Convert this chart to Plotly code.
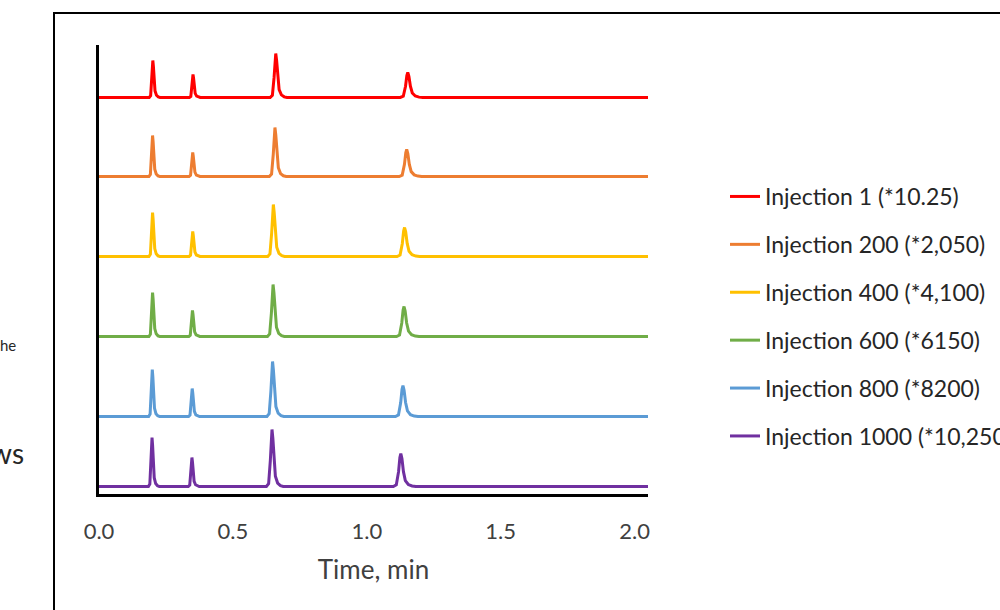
import plotly.graph_objects as go

# ---------------- data ----------------
series_names = [
    "Injection 1 (*10.25)",
    "Injection 200 (*2,050)",
    "Injection 400 (*4,100)",
    "Injection 600 (*6150)",
    "Injection 800 (*8200)",
    "Injection 1000 (*10,250)",
]
series_colors = ["#FF0000", "#ED7D31", "#FFC000", "#70AD47", "#5B9BD5", "#7030A0"]

# stacked baseline (signal offset, arbitrary units) of each trace
baselines = [396.5, 317.5, 237.5, 157.5, 77.5, 7.5]

# retention times (min) of the four peaks in each trace
rt_red = [0.201, 0.351, 0.660, 1.153]
rt_orange = [0.200, 0.350, 0.657, 1.149]
rt_yellow = [0.200, 0.350, 0.651, 1.141]
rt_green = [0.200, 0.349, 0.650, 1.139]
rt_blue = [0.199, 0.348, 0.648, 1.135]
rt_purple = [0.198, 0.347, 0.646, 1.127]

# peak heights above baseline (arbitrary units)
h_red = [37, 23, 44, 25]
h_orange = [41, 24, 49, 27]
h_yellow = [44, 25, 52, 29]
h_green = [44, 26, 52, 30]
h_blue = [47, 28, 55, 31]
h_purple = [49, 29, 57, 33]

# half-width (min) of each of the four peaks
peak_halfwidth = [0.0068, 0.0068, 0.0105, 0.014]

# sampled peak profile: offset (in half-widths) and relative intensity
profile_dt = [-2.0, -1.2, -0.6, -0.25, 0.0, 0.3, 0.7, 1.2, 2.0, 3.0, 4.0]
profile_val = [0.0, 0.05, 0.45, 0.88, 1.0, 0.85, 0.45, 0.18, 0.06, 0.015, 0.0]

time_start, time_end = 0.0, 2.05
x_ticks = [0.0, 0.5, 1.0, 1.5, 2.0]
x_tick_text = ["0.0", "0.5", "1.0", "1.5", "2.0"]

all_rt = [rt_red, rt_orange, rt_yellow, rt_green, rt_blue, rt_purple]
all_h = [h_red, h_orange, h_yellow, h_green, h_blue, h_purple]

# ---------------- figure ----------------
W, H = 1000, 610
PLOT_L, PLOT_R, PLOT_T, PLOT_B = 99, 648, 45, 494   # page pixels
L, T, R, B = PLOT_L, PLOT_T, W - PLOT_R, H - PLOT_B
PW, PH = PLOT_R - PLOT_L, PLOT_B - PLOT_T


def px_x(px):
    return (px - PLOT_L) / PW


def px_y(py):
    return (PLOT_B - py) / PH


FONT = "Lato, Calibri, sans-serif"

fig = go.Figure()
for i, name in enumerate(series_names):
    base = baselines[i]
    xs = [time_start]
    ys = [base]
    for k, (rt, h) in enumerate(zip(all_rt[i], all_h[i])):
        w = peak_halfwidth[k]
        for dt, v in zip(profile_dt, profile_val):
            xs.append(rt + dt * w)
            ys.append(base + h * v)
    xs.append(time_end)
    ys.append(base)
    fig.add_trace(go.Scatter(
        x=xs, y=ys, mode="lines", name=name,
        line=dict(color=series_colors[i], width=3),
        legendgroup=f"g{i}",
        hoverinfo="skip",
    ))

fig.update_layout(
    width=W, height=H,
    margin=dict(l=L, r=R, t=T, b=B, autoexpand=False),
    paper_bgcolor="white",
    plot_bgcolor="white",
    font=dict(family=FONT, color="#404040"),
    showlegend=True,
    legend=dict(
        x=px_x(725), y=px_y(175), xanchor="left", yanchor="top",
        font=dict(size=23, color="#262626"),
        tracegroupgap=15,
        bgcolor="rgba(0,0,0,0)",
    ),
    xaxis=dict(
        range=[time_start, time_end],
        tickvals=x_ticks, ticktext=x_tick_text,
        showgrid=False, zeroline=False,
        showline=True, linecolor="black", linewidth=3,
        ticks="", ticklabelstandoff=16,
        tickfont=dict(size=22, color="#404040"),
        title=dict(text="Time, min", font=dict(size=26, color="#404040"), standoff=18),
    ),
    yaxis=dict(
        range=[0, PH],
        showgrid=False, zeroline=False,
        showline=True, linecolor="black", linewidth=3,
        showticklabels=False, ticks="",
    ),
    shapes=[
        dict(type="rect", xref="paper", yref="paper",
             x0=px_x(54), x1=px_x(1030), y0=px_y(13), y1=px_y(650),
             line=dict(color="black", width=2), fillcolor="rgba(0,0,0,0)", layer="below"),
    ],
    annotations=[
        dict(text="he", xref="paper", yref="paper", x=px_x(-2), y=px_y(345),
             xanchor="left", yanchor="middle", showarrow=False,
             font=dict(size=15, color="#262626", family=FONT)),
        dict(text="ws", xref="paper", yref="paper", x=px_x(-12), y=px_y(453),
             xanchor="left", yanchor="middle", showarrow=False,
             font=dict(size=28, color="#262626", family=FONT)),
    ],
)

fig.write_html("out.html",
               config={"displayModeBar": False},
               post_script="document.body.style.margin='0px';document.body.style.overflow='hidden';")
